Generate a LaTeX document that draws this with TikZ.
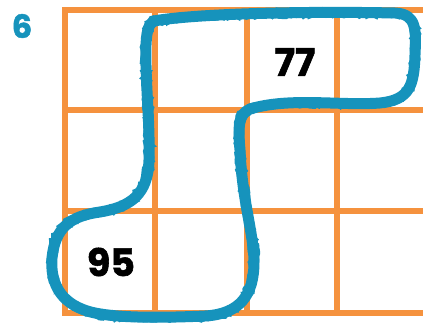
\documentclass[tikz,border=0pt]{standalone}
\usepackage{fontspec}
\setmainfont{Poppins}
\newfontfamily\numfont[FakeBold=1.5]{Poppins Bold}
\usetikzlibrary{decorations.pathmorphing}
\definecolor{gridorange}{HTML}{F5923E}
\definecolor{loopblue}{HTML}{1693BC}
\tikzset{
  gridline/.style={draw=gridorange, line width=6pt, line cap=rect},
  loopline/.style={draw=loopblue, line width=11pt, line join=round, line cap=round},
  loopsketch/.style={draw=loopblue, line width=2.5pt, decorate, decoration={random steps, segment length=3pt, amplitude=1.8pt}},
  numlabel/.style={font=\numfont\fontsize{38}{38}\selectfont, text=black, inner sep=0pt},
  qlabel/.style={font=\numfont\fontsize{32}{32}\selectfont, text=loopblue, inner sep=0pt}
}
\def\looppath{(160,20) .. controls (200,14) and (300,11) .. (395,13)
  .. controls (417,14) and (416,30) .. (415,55)
  .. controls (414,85) and (410,100) .. (380,103)
  .. controls (340,106) and (290,97) .. (250,109)
  .. controls (238,114) and (238,128) .. (240,150)
  .. controls (242,200) and (254,235) .. (254,262)
  .. controls (254,295) and (240,314) .. (205,316)
  .. controls (160,318) and (120,318) .. (95,313)
  .. controls (62,306) and (50,285) .. (52,258)
  .. controls (55,228) and (70,216) .. (100,212)
  .. controls (130,207) and (148,195) .. (149,160)
  .. controls (150,120) and (145,80) .. (146,45)
  .. controls (147,25) and (150,21) .. (160,20) -- cycle}
\begin{document}
\begin{tikzpicture}[x=1pt,y=-1pt]
\useasboundingbox (0,0) rectangle (423,323);
\fill[white] (0,0) rectangle (423,323);
% grid
\foreach \x in {65,155,247,337} \draw[gridline] (\x,10) -- (\x,313);
\foreach \y in {10,110,211,313} \draw[gridline] (65,\y) -- (426,\y);
% labels
\node[qlabel] (six) at (22,26) {6};
\node[numlabel] (n77) at (295,62) {77};
\node[numlabel] (n95) at (111,262) {95};
% loop
\draw[loopline] \looppath;
\draw[loopsketch, xshift=3.5pt] \looppath;
\draw[loopsketch, xshift=-3.5pt, yshift=2pt] \looppath;
\draw[loopsketch, yshift=-3.5pt] \looppath;
\end{tikzpicture}
\end{document}
